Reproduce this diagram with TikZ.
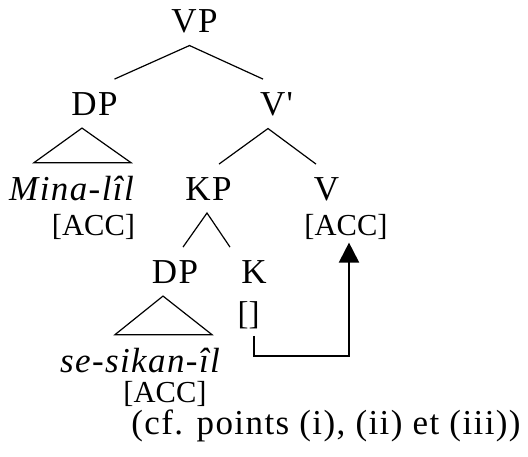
\documentclass[tikz,border=0pt]{standalone}
\usepackage{fontspec}
\setmainfont{Liberation Serif}
\newfontfamily\spaced{Liberation Serif}[LetterSpace=4]
\usepackage{tikz}
\usetikzlibrary{arrows.meta, calc}
\tikzset{
  lab/.style={font=\spaced\fontsize{35}{40}\selectfont, inner sep=0pt,
    outer xsep=0pt, outer ysep=13pt, anchor=base},
  labi/.style={lab, font=\spaced\itshape\fontsize{35}{40}\selectfont},
  feat/.style={font=\fontsize{30.5}{35}\selectfont, inner sep=0pt,
    outer xsep=0pt, outer ysep=3.5pt, anchor=base},
  branch/.style={line width=1.2pt},
  link/.style={-{Triangle[length=20pt, width=20pt]}, line width=2pt},
}

\begin{document}
\begin{tikzpicture}[x=1pt, y=-1pt]
  \useasboundingbox (0,0) rectangle (528,456);
  \node[lab] (vp) at (194.5,32) {VP};
  \node[lab] (dpa) at (94.5,115) {DP};
  \node[lab] (vbar) at (276.5,115) {V'};
  \node[labi] (mina) at (71.5,200) {Mina-lîl};
  \node[lab] (kp) at (208.5,200) {KP};
  \node[lab] (v) at (326.5,200) {V};
  \node[feat] (acca) at (93.5,235) {[ACC]};
  \node[feat] (accv) at (346,235) {[ACC]};
  \node[lab] (dpb) at (175,283) {DP};
  \node[lab] (k) at (254,283) {K};
  \node[feat, font=\fontsize{33}{38}\selectfont] (empty) at (248.5,324) {[]};
  \node[labi] (sesikan) at (140,372) {se-sikan-îl};
  \node[feat] (accb) at (165,402) {[ACC]};
  \node[lab] (note) at (326,434) {(cf. points (i), (ii) et (iii))};
  \draw[branch] ([xshift=20pt]dpa.north) -- ([xshift=-5pt]vp.south) -- ([xshift=-13.5pt]vbar.north);
  \draw[branch] ([xshift=-12.5pt]dpa.south) -- ([xshift=-37.5pt]mina.north) -- ([xshift=59.5pt]mina.north) -- cycle;
  \draw[branch] ([xshift=10.5pt]kp.north) -- ([xshift=-8.5pt]vbar.south) -- ([xshift=-10.5pt]v.north);
  \draw[branch] ([xshift=8pt]dpb.north) -- ([xshift=-1.5pt]kp.south) -- ([xshift=-24pt]k.north);
  \draw[branch] ([xshift=-12pt]dpb.south) -- ([xshift=-25pt]sesikan.north) -- ([xshift=72pt]sesikan.north) -- cycle;
  \draw[link, shorten <=4pt] ([xshift=5.5pt]empty.south) -- ++(0,24) -| ([xshift=3pt]accv.south);
\end{tikzpicture}
\end{document}
